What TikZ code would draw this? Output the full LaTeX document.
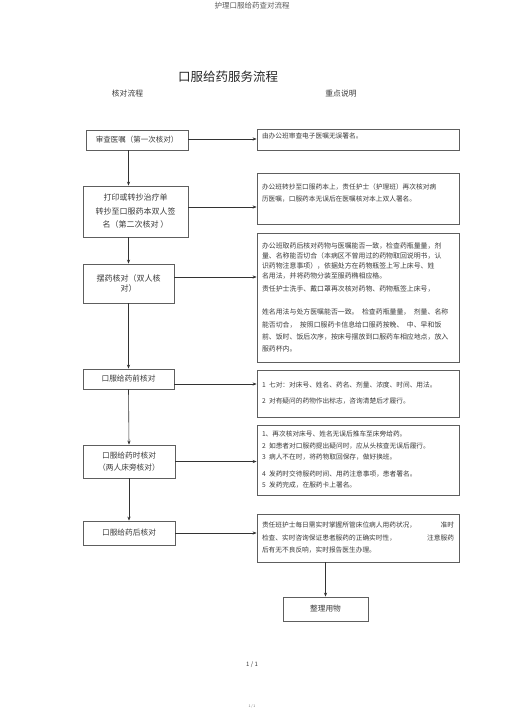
\documentclass[tikz,border=0pt]{standalone}
\usepackage{fontspec}
\setmainfont{Noto Sans CJK SC}
\usetikzlibrary{arrows.meta,positioning,calc}
\definecolor{txtgray}{HTML}{3A3A3A}
\definecolor{linegray}{HTML}{5E5E5E}

\begin{document}
\begin{tikzpicture}[x=1pt, y=-1pt,
    lbox/.style={draw=linegray, line width=0.8pt, minimum width=91pt, align=center,
                 inner sep=2pt, text=txtgray, font=\fontsize{7.7}{12.5}\selectfont},
    rbox/.style={draw=linegray, line width=0.8pt, minimum width=202pt, text width=192pt,
                 inner xsep=5pt, inner ysep=2pt, align=left, text=txtgray,
                 font=\fontsize{6.7}{12}\selectfont},
    arrow/.style={-{Stealth[length=4pt,width=3.2pt]}, line width=0.6pt, draw=black!80},
    every node/.style={text=txtgray}
  ]
    \useasboundingbox (0,0) rectangle (505,714);

    % Headings
    \node[font=\fontsize{7.5}{9}\selectfont, text=black!65] (head) at (252,6) {护理口服给药查对流程};
    \node[font=\fontsize{12.5}{15}\selectfont, text=black!85] (title) at (228,77) {口服给药服务流程};
    \node[font=\fontsize{7.8}{9}\selectfont] (colL) at (127.5,94) {核对流程};
    \node[font=\fontsize{7.8}{9}\selectfont] (colR) at (341,94) {重点说明};

    % Check steps
    \node[lbox, minimum width=102pt, minimum height=20pt, font=\fontsize{7.5}{12}\selectfont]
      (L1) at (137,140) {审查医嘱（第一次核对）};
    \node[lbox, minimum width=105pt, minimum height=51pt, font=\fontsize{8}{13.5}\selectfont]
      (L2) at (135.5,211.5) {打印或转抄治疗单\\转抄至口服药本双人签\\名（第二次核对 ）};
    \node[lbox, minimum height=39pt, font=\fontsize{8}{10.5}\selectfont]
      (L3) at (128.5,283.5) {摆药核对（双人核\\对）};
    \node[lbox, minimum height=20pt] (L4) at (128.5,379) {口服给药前核对};
    \node[lbox, minimum width=92pt, minimum height=33pt, font=\fontsize{7.7}{12}\selectfont]
      (L5) at (129,461.5) {口服给药时核对\\（两人床旁核对）};
    \node[lbox, minimum width=92pt, minimum height=24pt] (L6) at (129,533) {口服给药后核对};

    % Key points
    \node[rbox, minimum height=21pt] (R1) at (358,139.5)
      {由办公班审查电子医嘱无误署名。\\[-5pt]\mbox{}};
    \node[rbox, minimum height=51pt] (R2) at (358,198.5)
      {办公班转抄至口服药本上，责任护士（护理班）再次核对病\\
       历医嘱，口服药本无误后在医嘱核对本上双人署名。\\\mbox{}};
    \node[rbox, minimum height=129pt, font=\fontsize{6.9}{10}\selectfont] (R3) at (358,297.5)
      {办公班取药后核对药物与医嘱能否一致，检查药瓶量量，剂\\
       量、名称能否切合（本病区不曾用过的药物取回说明书，认\\
       识药物注意事项），依据处方在药物瓶签上写上床号、姓\\
       名用法，并将药物分装至服药椭相应格。\\[3pt]
       责任护士洗手、戴口罩再次核对药物、药物瓶签上床号，\\[13pt]
       姓名用法与处方医嘱能否一致。\enspace 检查药瓶量量，\enspace 剂量、名称\\[3pt]
       能否切合，\enspace 按照口服药卡信息给口服药按晚、\enspace 中、早和饭\\[2pt]
       前、饭时、饭后次序，按床号摆放到口服药车相应地点，放入\\[2pt]
       服药杯内。};
    \node[rbox, minimum height=47pt, font=\fontsize{6.7}{16}\selectfont] (R4) at (358,393.5)
      {1\enspace 七对：对床号、姓名、药名、剂量、浓度、时间、用法。\\
       2\enspace 对有疑问的药物作出标志，咨询清楚后才履行。};
    \node[rbox, minimum height=70pt] (R5) at (358,460)
      {1、再次核对床号、姓名无误后推车至床旁给药。\\
       2\enspace 如患者对口服药提出疑问时，应从头核查无误后履行。\\[-1pt]
       3\enspace 病人不在时，将药物取回保存，做好换班。\\[5pt]
       4\enspace 发药时交待服药时间、用药注意事项，患者署名。\\[-1pt]
       5\enspace 发药完成，在服药卡上署名。};
    \node[rbox, minimum height=48pt, font=\fontsize{6.7}{12.5}\selectfont] (R6) at (358,538)
      {责任班护士每日需实时掌握所管床位病人用药状况，\hfill 准时\\
       检查、实时咨询保证患者服药的正确实时性，\hfill 注意服药\\
       后有无不良反响，实时报告医生办理。};

    % Final step
    \node[lbox, minimum width=85pt, minimum height=24pt] (B) at (325.5,609) {整理用物};

    % Page numbers
    \node[font=\fontsize{6}{7}\selectfont] (pg) at (252,665) {1 / 1};
    \node[font=\fontsize{3.5}{4}\selectfont, text=black!55] (pgs) at (252,706) {1 / 1};

    % Arrows down the left column
    \draw[arrow] (L1.south -| L3.north) -- (L2.north -| L3.north);
    \draw[arrow] (L2.south -| L3.north) -- (L3.north);
    \draw[arrow] (L3.south) -- (L4.north);
    \draw[arrow] (L4.south) -- (L5.north);
    \draw[arrow] (L5.south) -- (L6.north);

    % Arrows to the key points
    \draw[arrow] ([yshift=1pt]L1.east) -- ([yshift=1pt]L1.east -| R1.west);
    \draw[arrow] ([yshift=4.5pt]L2.east) -- ([yshift=4.5pt]L2.east -| R2.west);
    \draw[arrow] ([yshift=6.5pt]L3.east) -- ([yshift=6.5pt]L3.east -| R3.west);
    \draw[arrow] ([yshift=-5pt]L4.east) -- ([yshift=-5pt]L4.east -| R4.west);
    \draw[arrow] (L5.east) -- (L5.east -| R5.west);
    \draw[arrow] (L6.east) -- (L6.east -| R6.west);
    \draw[arrow] (R6.south -| B.north) -- (B.north);
  \end{tikzpicture}
\end{document}
